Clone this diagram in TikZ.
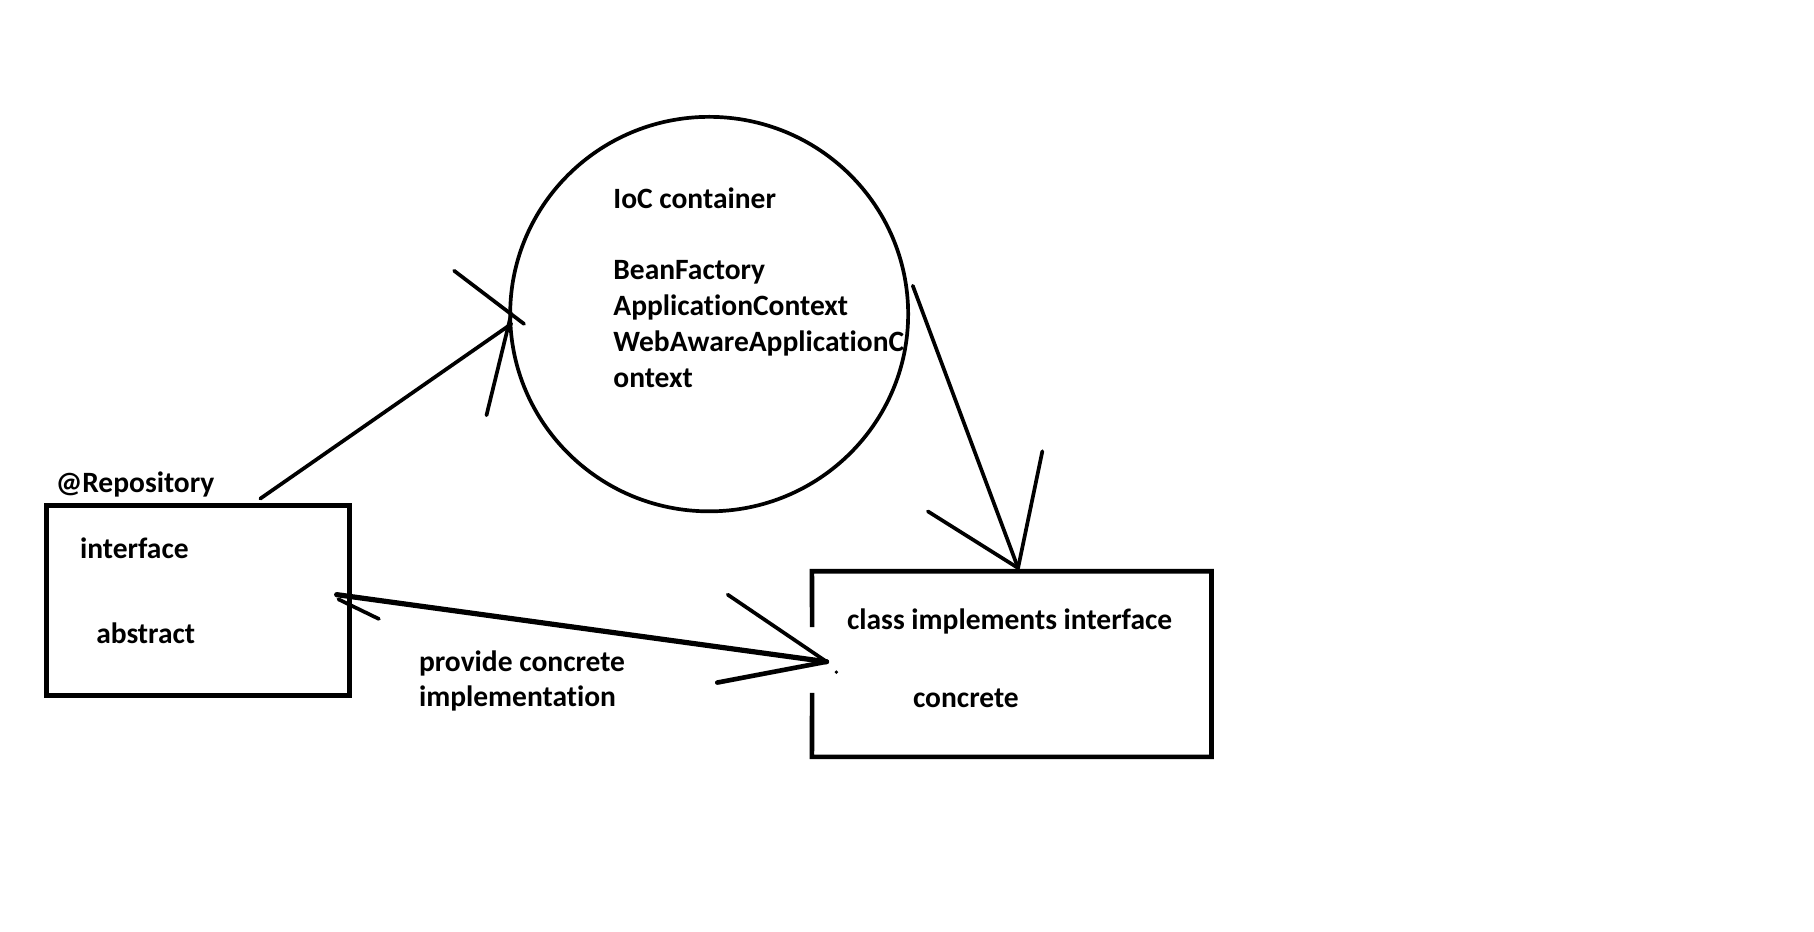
\documentclass[tikz,border=0pt]{standalone}
\usepackage{fontspec}
\setmainfont{Carlito}[Ligatures=NoCommon]
\usetikzlibrary{shapes.geometric}
\begin{document}
\begin{tikzpicture}[x=1pt,y=-1pt,
  txt/.style={anchor=base west,inner sep=0pt,font=\fontsize{25.5}{31}\selectfont\bfseries,align=left},
  stroke/.style={line width=3.2pt,line cap=round,line join=round},
  boxline/.style={line width=4pt,line join=miter}]
\useasboundingbox[fill=white] (0,0) rectangle (1568,805);
% IoC container ellipse
\node[ellipse,draw,line width=3.2pt,minimum width=344pt,minimum height=341pt,inner sep=0pt] (ioc) at (613,271.5) {};
\node[txt] (ioctext) at (530,180) {IoC container};
\node[txt] (beans) at (530,335) {BeanFactory\\ApplicationContext\\WebAwareApplicationC\\ontext};
% left box
\node[draw,boxline,minimum width=262pt,minimum height=164pt,inner sep=0pt] (abox) at (171,519) {};
\node[txt] (repo) at (48,426) {@Repository};
\node[txt] (iface) at (69,482.5) {interface};
\node[txt] (abstr) at (83,556.5) {abstract};
% right box (left edge broken)
\node[minimum width=345pt,minimum height=160pt,inner sep=0pt] (cbox) at (874.5,574) {};
\draw[boxline] (702,542) -- (cbox.north west) -- (cbox.north east) -- (cbox.south east) -- (cbox.south west) -- (702,599);
\node[txt] (cls) at (732,544) {class implements interface};
\node[txt] (conc) at (789,611.5) {concrete};
\node[txt] (prov) at (362,611) {provide concrete\\implementation};
% arrow: box -> ioc
\coordinate (a1s) at (225,431);
\coordinate (a1t) at (442,280);
\coordinate (a1h1) at (392.5,234);
\coordinate (a1h1e) at (453,280);
\coordinate (a1h2) at (420.5,359);
\coordinate (a1h2e) at (442,271);
\draw[stroke] (a1s) -- (a1t);
\draw[stroke] (a1h1) -- (a1h1e);
\draw[stroke] (a1h2) -- (a1h2e);
% arrow: ioc -> class box
\coordinate (a2s) at (789,247);
\coordinate (a2t) at (880,491);
\coordinate (a2h1) at (802,442);
\coordinate (a2h2) at (901,390);
\draw[stroke] (a2s) -- (a2t);
\draw[stroke] (a2h1) -- (a2t);
\draw[stroke] (a2h2) -- (a2t);
% double arrow between boxes
\coordinate (a3l) at (291,514);
\coordinate (a3r) at (714.5,572);
\coordinate (a3lh) at (327.5,535);
\coordinate (a3rh1) at (629,514);
\coordinate (a3rh2) at (620,590);
\draw[line width=4.5pt,line cap=round] (a3l) -- (a3r);
\draw[stroke] (292.5,518) -- (a3lh);
\draw[stroke] (a3rh1) -- (a3r);
\draw[line width=4pt,line cap=round] (a3rh2) -- (a3r);
\fill (723,581) circle (1.6pt);
\end{tikzpicture}
\end{document}
